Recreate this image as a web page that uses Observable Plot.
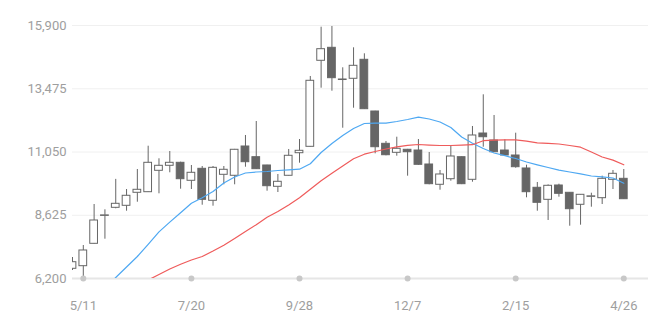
<!DOCTYPE html>
<html>
<head>
<meta charset="utf-8">
<script src="https://cdn.jsdelivr.net/npm/d3@7"></script>
<script src="https://cdn.jsdelivr.net/npm/@observablehq/plot@0.6"></script>
<style>
  html, body { margin: 0; padding: 0; background: #fff; }
  #chart { width: 649px; height: 318px; }
</style>
</head>
<body>
<div id="chart"></div>
<script>
const dates = [
  "2022-05-04","2022-05-11","2022-05-18","2022-05-25","2022-06-01","2022-06-08","2022-06-15","2022-06-22","2022-06-29",
  "2022-07-06","2022-07-13","2022-07-20","2022-07-27","2022-08-03","2022-08-10","2022-08-17","2022-08-24","2022-08-31",
  "2022-09-07","2022-09-14","2022-09-21","2022-09-28","2022-10-05","2022-10-12","2022-10-19","2022-10-26",
  "2022-11-02","2022-11-09","2022-11-16","2022-11-23","2022-11-30","2022-12-07","2022-12-14","2022-12-21","2022-12-28",
  "2023-01-04","2023-01-11","2023-01-18","2023-01-25","2023-02-01","2023-02-08","2023-02-15","2023-02-22",
  "2023-03-01","2023-03-08","2023-03-15","2023-03-22","2023-03-29","2023-04-05","2023-04-12","2023-04-19","2023-04-26"
];
const open = [6572,6672,7530,8600,8910,8987,9486,9509,10329,10521,10636,9946,10406,9179,10176,10138,11261,10851,10533,9716,
  10138,11004,11249,14547,15045,13830,13857,14585,12603,11364,11019,11135,11107,10571,9793,10007,10851,9984,11759,11491,
  11107,10916,10418,9678,9217,9766,9486,9026,9330,9279,9984,10022];
const high = [7005,7465,9037,8834,10000,9612,10379,11272,10789,11069,10659,10533,10494,10494,10494,11150,11683,12219,10540,10187,
  11146,11529,13945,15835,15862,14278,15045,14815,12610,11453,11617,11150,11529,11031,10341,11272,10860,12028,13243,12450,
  11518,11771,10544,9881,9790,9816,9490,9420,9470,10123,10341,10379];
const low = [6507,6210,7520,7707,8872,8780,9125,9500,9447,10253,9624,9612,9010,8972,9793,9793,10467,10380,9547,9497,
  10130,10621,11240,13496,13381,11962,12729,12680,10981,10904,10889,10123,10540,9793,9585,9931,9800,9892,11234,11030,
  10900,10429,9294,8780,8424,9317,8205,8244,8934,9037,9612,9230];
const close = [6825,7274,8424,8620,9064,9371,9601,10636,10521,10636,10007,10253,9217,10444,10368,11135,10659,10391,9739,9908,
  10905,11096,13780,14992,13880,13810,14355,12691,11234,10927,11173,11042,10559,9816,10188,10878,9816,11683,11617,11042,
  10916,10467,9509,9102,9754,9447,8857,9409,9350,10022,10214,9240];
const maShort = [null,null,null,5832,6238,6641,7043,7511,7987,8362,8723,9087,9298,9532,9861,10092,10245,10283,10302,10341,
  10368,10391,10598,11031,11376,11683,11951,12143,12154,12154,12219,12296,12384,12315,12200,11989,11625,11384,11184,11012,
  10908,10801,10667,10559,10456,10352,10283,10214,10130,10099,10053,9854];
const maLong = [null,null,null,null,null,null,5932,6142,6353,6564,6744,6909,7043,7251,7473,7737,8002,8263,8550,8769,
  9022,9298,9620,9950,10233,10509,10789,10966,11069,11165,11246,11303,11338,11315,11299,11299,11311,11330,11483,11506,
  11518,11514,11464,11403,11384,11357,11299,11234,11050,10858,10739,10559];
const yTicks = [6200, 8625, 11050, 13475, 15900];
const xTicks = ["2022-05-11","2022-07-20","2022-09-28","2022-12-07","2023-02-15","2023-04-26"];
const xTickLabels = ["5/11","7/20","9/28","12/7","2/15","4/26"];

const candles = dates.map((d, i) => ({
  date: new Date(d), open: open[i], high: high[i], low: low[i], close: close[i],
  x1: d3.utcHour.offset(new Date(d), -60), x2: d3.utcHour.offset(new Date(d), 60)
}));
const lineShort = dates.map((d, i) => ({date: new Date(d), v: maShort[i]})).filter(d => d.v != null);
const lineLong = dates.map((d, i) => ({date: new Date(d), v: maLong[i]})).filter(d => d.v != null);
const tickDates = xTicks.map(d => new Date(d));

const chart = Plot.plot({
  width: 649,
  height: 318,
  marginLeft: 72,
  marginRight: 1,
  marginTop: 25,
  marginBottom: 40,
  style: {fontFamily: "Roboto, sans-serif", fontSize: "13px", background: "#fff"},
  x: {type: "utc", domain: [new Date("2022-05-04"), new Date("2023-05-12")], ticks: tickDates,
      tickFormat: d => xTickLabels[xTicks.indexOf(d3.utcFormat("%Y-%m-%d")(d))], tickSize: 0, tickPadding: 22, label: null},
  y: {domain: [6200, 15900], ticks: yTicks, tickFormat: d3.format(","), tickSize: 0, tickPadding: 6, label: null},
  marks: [
    Plot.ruleY(yTicks.slice(1), {stroke: "#f0f0f0", strokeWidth: 1}),
    Plot.ruleY([6200], {stroke: "#e6e6e6", strokeWidth: 2}),
    Plot.axisY({ticks: yTicks, tickFormat: d3.format(","), tickSize: 0, tickPadding: 6, fill: "#9e9e9e", fontSize: 13, label: null}),
    Plot.axisX({ticks: tickDates, tickFormat: d => xTickLabels[xTicks.indexOf(d3.utcFormat("%Y-%m-%d")(d))], tickSize: 0, tickPadding: 22, fill: "#9e9e9e", fontSize: 13, label: null}),
    Plot.ruleX(candles, {x: "date", y1: "low", y2: "high", stroke: "#666", strokeWidth: 1, clip: true}),
    Plot.rect(candles, {x1: "x1", x2: "x2", y1: "open", y2: "close",
      fill: d => d.close >= d.open ? "#ffffff" : "#666666", stroke: "#666", strokeWidth: 1, clip: true}),
    Plot.line(lineShort, {x: "date", y: "v", stroke: "#4ea8f2", strokeWidth: 1.2, clip: true}),
    Plot.line(lineLong, {x: "date", y: "v", stroke: "#ef5b5b", strokeWidth: 1.2, clip: true}),
    Plot.dot(tickDates, {x: d => d, y: () => 6200, r: 3, fill: "#c8c8c8", stroke: null})
  ]
});
document.getElementById("chart").appendChild(chart);
</script>
</body>
</html>
